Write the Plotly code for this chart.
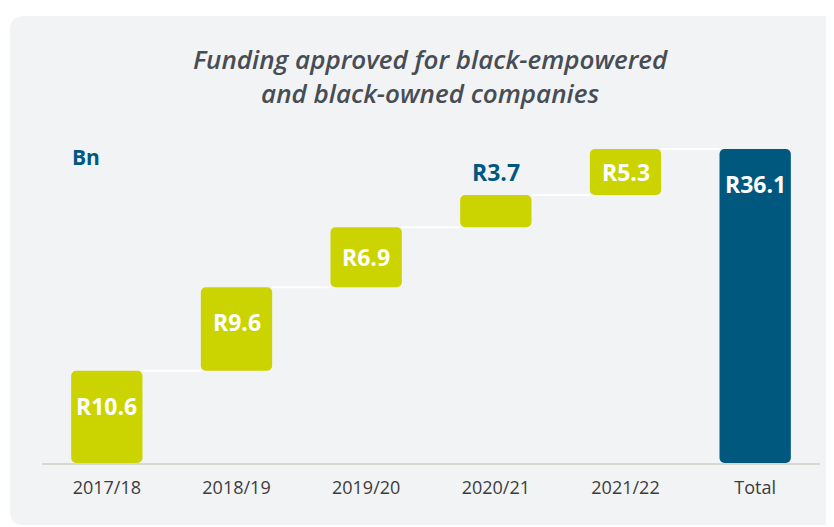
import plotly.graph_objects as go

categories = ["2017/18", "2018/19", "2019/20", "2020/21", "2021/22", "Total"]
values = [10.6, 9.6, 6.9, 3.7, 5.3]
total_value = 36.1
labels = ["R10.6", "R9.6", "R6.9", "R3.7", "R5.3", "R36.1"]

LIME = "#cbd400"
BLUE = "#00587f"
BG = "#f2f3f5"
FONT = "Open Sans"

# page offset of the figure (browser body margin)
OFF = 8
W, H = 834, 527
# plot area in page pixels: x 42..820, y 130..463
PL, PR, PT, PB = 42, 820, 130, 463
ML, MT = PL - OFF, PT - OFF
MR = W - (PR - OFF)
MB = H - (PB - OFF)
PW, PH = PR - PL, PB - PT
PX_PER_UNIT = 8.70
YMAX = PH / PX_PER_UNIT

def px(x):
    return (x - PL) / PW

def py(y):
    return (PB - y) / PH

# waterfall bases
bases = []
run = 0.0
for v in values:
    bases.append(run)
    run += v
all_bases = bases + [0.0]
all_vals = values + [total_value]
tops = [b + v for b, v in zip(all_bases, all_vals)]
colors = [LIME] * len(values) + [BLUE]

fig = go.Figure()

bar_w = 0.55
fig.add_trace(go.Bar(
    x=list(range(len(categories))),
    y=all_vals,
    base=all_bases,
    width=bar_w,
    marker=dict(color=colors, line=dict(width=0)),
    hoverinfo="skip",
    showlegend=False,
))

# connectors
cx, cy = [], []
for i in range(len(categories) - 1):
    cx += [i + bar_w / 2, i + 1 - bar_w / 2, None]
    cy += [tops[i], tops[i], None]
fig.add_trace(go.Scatter(
    x=cx, y=cy, mode="lines",
    line=dict(color="white", width=2),
    hoverinfo="skip", showlegend=False,
))

annotations = []
for i, (lab, b, v) in enumerate(zip(labels, all_bases, all_vals)):
    top = b + v
    if v < 4.5:
        annotations.append(dict(
            x=i, y=top, xref="x", yref="y", text=f"<b>{lab}</b>",
            showarrow=False, yanchor="middle", yshift=23,
            font=dict(family=FONT, size=23, color=BLUE),
        ))
    else:
        annotations.append(dict(
            x=i, y=top - min(4.0, v / 2), xref="x", yref="y", text=f"<b>{lab}</b>",
            showarrow=False, yanchor="middle",
            font=dict(family=FONT, size=23, color="white"),
        ))

annotations.append(dict(
    x=px(430), y=py(76), xref="paper", yref="paper",
    text="Funding approved for black-empowered<br>and black-owned companies",
    showarrow=False, xanchor="center", yanchor="middle", align="center",
    font=dict(family=FONT, size=26, color="#474d54", style="italic", weight=600),
))
annotations.append(dict(
    x=px(86), y=py(157), xref="paper", yref="paper", text="<b>Bn</b>",
    showarrow=False, xanchor="center", yanchor="middle",
    font=dict(family=FONT, size=21, color=BLUE),
))

# rounded background panel (page coords)
x0, y0, x1, y1, r = 10, 16, 880, 525, 14
path = (
    f"M {px(x0 + r)},{py(y0)} L {px(x1)},{py(y0)} L {px(x1)},{py(y1)} "
    f"L {px(x0 + r)},{py(y1)} Q {px(x0)},{py(y1)} {px(x0)},{py(y1 - r)} "
    f"L {px(x0)},{py(y0 + r)} Q {px(x0)},{py(y0)} {px(x0 + r)},{py(y0)} Z"
)
shapes = [dict(type="path", path=path, xref="paper", yref="paper",
               fillcolor=BG, line=dict(width=0), layer="below")]

fig.update_layout(
    width=W, height=H,
    margin=dict(l=ML, r=MR, t=MT, b=MB),
    paper_bgcolor="white",
    plot_bgcolor="rgba(0,0,0,0)",
    barcornerradius=5,
    annotations=annotations,
    shapes=shapes,
    xaxis=dict(
        tickmode="array", tickvals=list(range(len(categories))), ticktext=categories,
        range=[-0.5, len(categories) - 0.5],
        showline=True, linecolor="#d8d8cf", linewidth=1.5,
        showgrid=False, zeroline=False, ticks="",
        ticklabelstandoff=8,
        tickfont=dict(family=FONT, size=18, color="#3c3c3c"),
        fixedrange=True,
    ),
    yaxis=dict(
        range=[0, YMAX], visible=False, showgrid=False, zeroline=False,
        fixedrange=True,
    ),
)

fig.write_html("out.html")
